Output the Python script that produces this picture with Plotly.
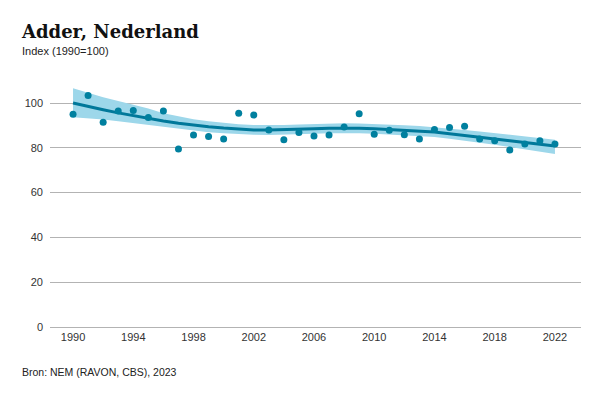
import plotly.graph_objects as go

years = list(range(1990, 2023))
index_values = [95.0, 103.4, 91.4, 96.4, 96.6, 93.5, 96.4, 79.5, 85.7, 85.1, 83.9,
                95.4, 94.6, 87.9, 83.6, 86.8, 85.3, 85.7, 89.3, 95.2, 86.0, 87.8,
                85.8, 83.9, 88.2, 89.1, 89.6, 83.9, 83.2, 79.0, 81.7, 83.2, 81.7]
trend = [100.0, 98.4, 97.0, 95.6, 94.3, 93.1, 92.0, 91.0, 90.1, 89.4, 88.8,
         88.3, 88.0, 87.9, 88.0, 88.2, 88.5, 88.7, 88.8, 88.7, 88.5, 88.2,
         87.9, 87.5, 87.0, 86.3, 85.6, 84.8, 84.0, 83.2, 82.4, 81.6, 80.8]
upper = [106.6, 104.5, 102.6, 100.9, 99.2, 97.6, 95.4, 93.9, 92.7, 91.8, 91.0,
         90.5, 90.2, 90.1, 90.2, 90.4, 90.7, 90.9, 91.0, 90.9, 90.7, 90.4,
         90.1, 89.7, 89.2, 88.6, 88.0, 87.3, 86.6, 85.9, 85.2, 84.4, 83.6]
lower = [93.6, 93.2, 92.6, 91.8, 91.0, 90.1, 89.1, 88.3, 87.5, 86.9, 86.5,
         86.1, 85.8, 85.7, 85.8, 86.0, 86.3, 86.5, 86.6, 86.5, 86.3, 86.0,
         85.7, 85.3, 84.8, 84.0, 83.2, 82.3, 81.4, 80.4, 79.4, 78.3, 77.2]
x_ticks = [1990, 1994, 1998, 2002, 2006, 2010, 2014, 2018, 2022]
y_ticks = [0, 20, 40, 60, 80, 100]

DARK = "#00809f"
BAND = "#9dd7ea"
FONT = "Liberation Sans, Arial, sans-serif"
GRID = "#b3b3b3"

W, H = 600, 399
L, R, T, B = 50, 19, 80, 72

fig = go.Figure()
fig.add_trace(go.Scatter(x=years, y=upper, mode="lines", line=dict(width=0),
                         hoverinfo="skip", showlegend=False))
fig.add_trace(go.Scatter(x=years, y=lower, mode="lines", line=dict(width=0),
                         fill="tonexty", fillcolor=BAND, hoverinfo="skip",
                         showlegend=False))
fig.add_trace(go.Scatter(x=years, y=trend, mode="lines",
                         line=dict(color="#00789a", width=3), showlegend=False))
fig.add_trace(go.Scatter(x=years, y=index_values, mode="markers",
                         marker=dict(color=DARK, size=7), showlegend=False))


def px_ann(text, x, y_bottom, size, family=FONT, color="#222222"):
    pw, ph = W - L - R, H - T - B
    return dict(text=text, xref="paper", yref="paper",
                x=(x - L) / pw, y=((H - y_bottom) - B) / ph,
                xanchor="left", yanchor="bottom", showarrow=False,
                font=dict(family=family, size=size, color=color))


fig.update_layout(
    width=W, height=H,
    margin=dict(l=L, r=R, t=T, b=B),
    plot_bgcolor="white", paper_bgcolor="white",
    font=dict(family=FONT, size=11, color="#333333"),
    xaxis=dict(range=[1988.47, 2023.73], tickvals=x_ticks, showgrid=False,
               zeroline=False, showline=True, linecolor=GRID, linewidth=1.3,
               ticks="", ticklabelstandoff=0,
               tickfont=dict(size=11, color="#333333")),
    yaxis=dict(range=[0, 110.27], tickvals=y_ticks, showgrid=True,
               gridcolor=GRID, gridwidth=1.2, zeroline=False,
               showline=False, ticks="", ticklabelstandoff=6,
               tickfont=dict(size=11, color="#333333")),
    annotations=[
        px_ann("<b>Adder, Nederland</b>", 19, 44, 18,
               family="DejaVu Serif, serif", color="#111111"),
        px_ann("Index (1990=100)", 20, 59, 11),
        px_ann("Bron: NEM (RAVON, CBS), 2023", 20, 380, 10.5),
    ],
)
fig.write_html("out.html", config={"displayModeBar": False},
               post_script="document.body.style.margin='0px';")
